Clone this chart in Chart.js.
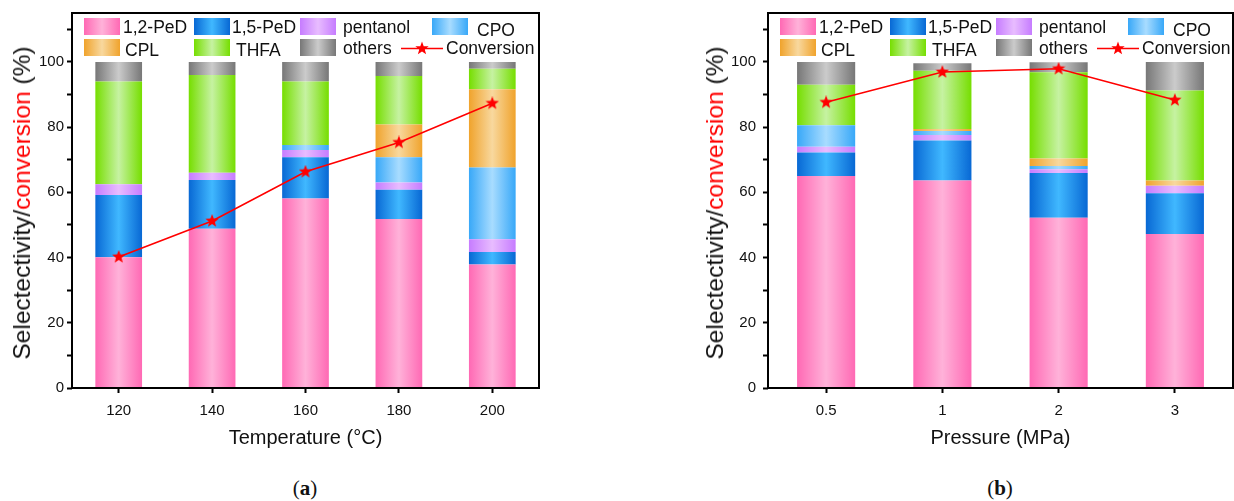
<!DOCTYPE html>
<html>
<head>
<meta charset="utf-8">
<script src="https://cdn.jsdelivr.net/npm/chart.js@4"></script>
<style>
    body { margin: 0; background: #fff; font-family: 'Liberation Sans', Arial, sans-serif; }
    #page { position: relative; width: 1234px; height: 501px; overflow: hidden; }
    canvas { position: absolute; top: 0; }
    .ytitle {
        position: absolute; white-space: nowrap; font-size: 24.5px; color: #111;
        transform: translate(-50%, -50%) rotate(-90deg);
    }
    .ytitle .red { color: #ff0000; }
    .caption { position: absolute; top: 476px; font-family: 'Liberation Serif', serif; font-size: 21px; color: #111; transform: translateX(-50%); }
    .legend-item { position: absolute; font-size: 17.5px; color: #111; white-space: nowrap; line-height: 17px; }
    .swatch { position: absolute; width: 36px; height: 17px; }
</style>
</head>
<body>
<div id="page">
    <canvas id="chartTemp" width="617" height="460" style="left:0"></canvas>
    <canvas id="chartPress" width="631" height="460" style="left:617px"></canvas>
    <div class="ytitle" style="left:22px; top:203px">Selectectivity/<span class="red">conversion</span> (%)</div>
    <div class="ytitle" style="left:715px; top:203px">Selectectivity/<span class="red">conversion</span> (%)</div>
    <div class="caption" style="left:305px">(<b>a</b>)</div>
    <div class="caption" style="left:1000px">(<b>b</b>)</div>
</div>
<script>
// categories
const tempLabels = ['120', '140', '160', '180', '200'];
const pressLabels = ['0.5', '1', '2', '3'];
const seriesNames = ['1,2-PeD', '1,5-PeD', 'pentanol', 'CPO', 'CPL', 'THFA', 'others'];

// (a) temperature series, selectivity %
const tempPeD12 = [40.1, 48.8, 58.1, 51.8, 37.9];
const tempPeD15 = [19.1, 15.0, 12.7, 9.0, 3.8];
const tempPentanol = [3.3, 2.2, 2.2, 2.2, 3.9];
const tempCPO = [0, 0, 1.5, 7.8, 22.0];
const tempCPL = [0, 0, 0, 10.0, 24.0];
const tempTHFA = [31.5, 30.0, 19.5, 14.9, 6.3];
const tempOthers = [6.0, 4.0, 6.0, 4.3, 2.1];
const tempConversion = [40.2, 51.2, 66.3, 75.3, 87.3];

// (b) pressure series
const pressPeD12 = [65.0, 63.6, 52.2, 47.2];
const pressPeD15 = [7.2, 12.3, 13.7, 12.5];
const pressPentanol = [1.8, 1.7, 1.2, 2.3];
const pressCPO = [6.6, 1.2, 1.0, 0];
const pressCPL = [0, 0.6, 2.3, 1.6];
const pressTHFA = [12.4, 17.9, 26.4, 27.6];
const pressOthers = [7.0, 2.3, 3.1, 8.8];
const pressConversion = [87.6, 96.9, 97.9, 88.3];

const yTicks = [0, 20, 40, 60, 80, 100];

// edge / middle colour of each bar gradient
const barColors = [
    ['#ff69b4', '#ffb2d9'],
    ['#0868d4', '#40b8ff'],
    ['#c67cff', '#e8bcff'],
    ['#38a8f8', '#a8dcff'],
    ['#f0a32c', '#f8d89e'],
    ['#76de00', '#c6f2a2'],
    ['#777777', '#cbcbcb']
];

Chart.defaults.font.family = "'Liberation Sans', Arial, sans-serif";
Chart.defaults.color = '#111';

function makeStar(size) {
    const c = document.createElement('canvas');
    c.width = size; c.height = size;
    const g = c.getContext('2d');
    const r = size / 2, ri = r * 0.42;
    g.beginPath();
    for (let i = 0; i < 10; i++) {
        const rad = i % 2 === 0 ? r : ri;
        const a = -Math.PI / 2 + i * Math.PI / 5;
        g.lineTo(r + rad * Math.cos(a), r + rad * Math.sin(a));
    }
    g.closePath();
    g.fillStyle = '#ff0000';
    g.fill();
    return c;
}
const starImg = makeStar(14);

function barFill(edge, mid) {
    return (ctx) => {
        const chart = ctx.chart;
        const xs = chart.scales.x;
        if (!chart.chartArea || !xs) return edge;
        const cx = xs.getPixelForValue(ctx.dataIndex);
        const half = xs.width / chart.data.labels.length * 0.25;
        const g = chart.ctx.createLinearGradient(cx - half, 0, cx + half, 0);
        g.addColorStop(0, edge);
        g.addColorStop(0.5, mid);
        g.addColorStop(1, edge);
        return g;
    };
}

const frame = {
    id: 'frame',
    afterDraw(chart) {
        const { ctx, chartArea: a } = chart;
        ctx.save();
        ctx.strokeStyle = '#000';
        ctx.lineWidth = 2;
        ctx.strokeRect(a.left, a.top, a.right - a.left, a.bottom - a.top);
        ctx.restore();
    }
};

function buildChart(canvasId, labels, seriesData, conversion, xTitle, padLeft, padRight, tickPad) {
    const datasets = seriesData.map((vals, i) => ({
        type: 'bar',
        label: seriesNames[i],
        data: vals,
        backgroundColor: barFill(barColors[i][0], barColors[i][1]),
        borderWidth: 0,
        barPercentage: 0.5,
        categoryPercentage: 1.0,
        order: 1
    }));
    datasets.push({
        type: 'line',
        label: 'Conversion',
        data: conversion,
        yAxisID: 'y2',
        borderColor: '#ff0000',
        borderWidth: 1.6,
        pointStyle: starImg,
        pointRadius: 7,
        order: 0
    });

    const tickGrid = {
        drawOnChartArea: false,
        drawTicks: true,
        tickLength: 5,
        tickWidth: 2,
        tickColor: '#000'
    };

    return new Chart(document.getElementById(canvasId), {
        data: { labels: labels, datasets: datasets },
        plugins: [frame],
        options: {
            responsive: false,
            animation: false,
            devicePixelRatio: 1,
            layout: { padding: { left: padLeft, right: padRight, top: 13, bottom: 0 } },
            plugins: { legend: { display: false }, tooltip: { enabled: false } },
            scales: {
                x: {
                    stacked: true,
                    offset: true,
                    border: { display: false },
                    grid: Object.assign({ offset: false }, tickGrid),
                    ticks: { font: { size: 15 }, padding: 9, color: '#111' },
                    title: { display: true, text: xTitle, font: { size: 20 }, color: '#111', padding: { top: 0, bottom: 10 } },
                    afterFit: s => { s.height = 72; s.paddingLeft = 0; s.paddingRight = 0; }
                },
                y: {
                    stacked: true,
                    min: 0,
                    max: 115,
                    border: { display: false },
                    grid: tickGrid,
                    ticks: {
                        stepSize: 10,
                        includeBounds: false,
                        font: { size: 15 },
                        padding: tickPad,
                        color: '#111',
                        callback: v => yTicks.includes(v) ? String(v) : ''
                    },
                    afterFit: s => { s.width = 40; s.paddingTop = 0; s.paddingBottom = 0; }
                },
                y2: { display: false, min: 0, max: 115 }
            }
        }
    });
}

// legend drawn as html on top of each plot area
const legendRows = [
    [[0, 12, 51], [1, 122, 160], [2, 228, 271], [3, 360, 405]],
    [[4, 12, 53], [5, 122, 164], [6, 228, 271]]
];

function starPoints(cx, cy, r, ri) {
    const pts = [];
    for (let i = 0; i < 10; i++) {
        const rad = i % 2 === 0 ? r : ri;
        const a = -Math.PI / 2 + i * Math.PI / 5;
        pts.push((cx + rad * Math.cos(a)).toFixed(2) + ',' + (cy + rad * Math.sin(a)).toFixed(2));
    }
    return pts.join(' ');
}

function buildLegend(plotLeft) {
    const page = document.getElementById('page');
    const rowTop = [18, 39];
    legendRows.forEach((row, r) => {
        row.forEach(([idx, sx, tx]) => {
            const sw = document.createElement('div');
            sw.className = 'swatch';
            sw.style.left = (plotLeft + sx) + 'px';
            sw.style.top = rowTop[r] + 'px';
            sw.style.background = `linear-gradient(to right, ${barColors[idx][0]}, ${barColors[idx][1]}, ${barColors[idx][0]})`;
            page.appendChild(sw);
            const t = document.createElement('div');
            t.className = 'legend-item';
            t.textContent = seriesNames[idx];
            t.style.left = (plotLeft + tx) + 'px';
            const shift = 1 + (idx === 3 ? 3 : 0) + (idx === 5 || idx === 4 ? 2 : 0);
            t.style.top = (rowTop[r] + shift) + 'px';
            page.appendChild(t);
        });
    });
    // conversion line sample
    const svgNS = 'http://www.w3.org/2000/svg';
    const svg = document.createElementNS(svgNS, 'svg');
    svg.setAttribute('width', '42');
    svg.setAttribute('height', '17');
    svg.style.position = 'absolute';
    svg.style.left = (plotLeft + 329) + 'px';
    svg.style.top = '40px';
    svg.innerHTML = '<line x1="0" y1="8.5" x2="42" y2="8.5" stroke="#ff0000" stroke-width="1.6"/>' +
        '<polygon fill="#ff0000" points="' + starPoints(21, 8.5, 7, 2.9) + '"/>';
    page.appendChild(svg);
    const t = document.createElement('div');
    t.className = 'legend-item';
    t.textContent = 'Conversion';
    t.style.left = (plotLeft + 374) + 'px';
    t.style.top = '40px';
    page.appendChild(t);
}

buildChart('chartTemp', tempLabels,
    [tempPeD12, tempPeD15, tempPentanol, tempCPO, tempCPL, tempTHFA, tempOthers],
    tempConversion, 'Temperature (°C)', 32, 78, 3);
// right canvas runs past the page edge so the x-label overflow padding is absorbed
buildChart('chartPress', pressLabels,
    [pressPeD12, pressPeD15, pressPentanol, pressCPO, pressCPL, pressTHFA, pressOthers],
    pressConversion, 'Pressure (MPa)', 111, 15, 7);

buildLegend(72);
buildLegend(768);
</script>
</body>
</html>
